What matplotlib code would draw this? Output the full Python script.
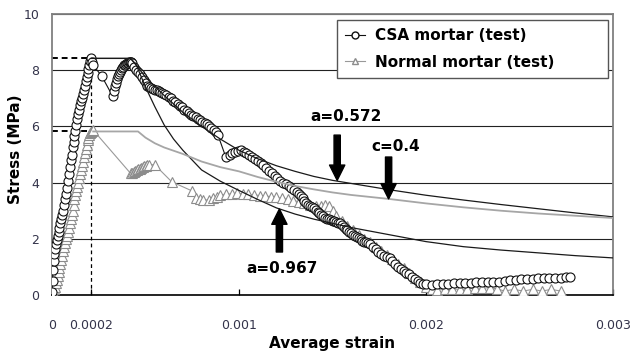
import matplotlib
matplotlib.use("Agg")
import matplotlib.pyplot as plt
from matplotlib.lines import Line2D
import numpy as np

# CSA mortar test (strain in microstrain, stress in MPa)
csa_ue = [0, 3, 6, 9, 12, 16, 20, 25, 30, 35, 40, 45, 50, 55, 60, 65, 70, 75, 80, 85,
          90, 95, 100, 105, 110, 115, 120, 125, 130, 135, 140, 145, 150, 155, 160, 165,
          170, 175, 180, 185, 190, 195, 200, 205, 210, 215, 220, 265, 324, 330, 336, 342,
          348, 354, 360, 365, 370, 375, 380, 385, 390, 395, 400, 405, 410, 415, 420, 425,
          430, 440, 450, 460, 470, 480, 490, 500, 510, 520, 530, 540, 550, 560, 570, 580,
          590, 600, 612, 624, 636, 648, 660, 672, 684, 696, 708, 720, 732, 744, 756, 768,
          780, 792, 804, 816, 828, 840, 852, 864, 876, 888, 930, 950, 965, 980, 995, 1010,
          1025, 1040, 1055, 1070, 1085, 1100, 1115, 1130, 1145, 1160, 1175, 1190, 1205,
          1220, 1235, 1250, 1265, 1280, 1295, 1310, 1320, 1330, 1340, 1350, 1360, 1370,
          1380, 1390, 1400, 1410, 1420, 1430, 1440, 1450, 1460, 1470, 1480, 1490, 1500,
          1510, 1520, 1530, 1540, 1550, 1560, 1570, 1580, 1590, 1600, 1610, 1620, 1630,
          1640, 1650, 1660, 1670, 1680, 1690, 1700, 1715, 1730, 1745, 1760, 1775, 1790,
          1805, 1820, 1835, 1850, 1865, 1880, 1895, 1910, 1925, 1940, 1955, 1970, 1985,
          2000, 2030, 2060, 2090, 2120, 2150, 2180, 2210, 2240, 2270, 2300, 2330, 2360,
          2390, 2420, 2450, 2480, 2510, 2540, 2570, 2600, 2630, 2660, 2690, 2720, 2750, 2770]
csa_mpa = [0.1, 0.5, 0.9, 1.2, 1.45, 1.65, 1.8, 1.95, 2.1, 2.25, 2.4, 2.55, 2.7, 2.85, 3.0,
           3.2, 3.4, 3.6, 3.8, 4.05, 4.3, 4.55, 4.8, 5.0, 5.25, 5.45, 5.65, 5.85, 6.05, 6.25,
           6.45, 6.6, 6.75, 6.9, 7.0, 7.15, 7.3, 7.45, 7.6, 7.75, 7.9, 8.05, 8.2, 8.32, 8.42,
           8.3, 8.18, 7.8, 7.08, 7.25, 7.42, 7.55, 7.68, 7.78, 7.88, 7.95, 8.02, 8.08, 8.12,
           8.17, 8.2, 8.22, 8.25, 8.27, 8.28, 8.3, 8.3, 8.28, 8.25, 8.12, 8.02, 7.95, 7.85,
           7.75, 7.65, 7.55, 7.45, 7.4, 7.36, 7.33, 7.3, 7.28, 7.25, 7.22, 7.18, 7.16, 7.1,
           7.05, 7.0, 6.92, 6.86, 6.8, 6.74, 6.68, 6.6, 6.55, 6.48, 6.42, 6.38, 6.33, 6.28,
           6.22, 6.17, 6.12, 6.07, 6.0, 5.95, 5.88, 5.8, 5.68, 4.9, 4.98, 5.05, 5.1, 5.14,
           5.15, 5.1, 5.05, 5.0, 4.92, 4.85, 4.77, 4.7, 4.62, 4.52, 4.43, 4.35, 4.25, 4.15,
           4.06, 3.97, 3.95, 3.88, 3.82, 3.74, 3.66, 3.58, 3.52, 3.45, 3.36, 3.27, 3.2, 3.15,
           3.12, 3.08, 3.02, 2.97, 2.93, 2.86, 2.8, 2.75, 2.72, 2.7, 2.68, 2.65, 2.62, 2.6,
           2.58, 2.55, 2.5, 2.42, 2.36, 2.3, 2.25, 2.2, 2.15, 2.1, 2.06, 2.02, 1.98, 1.93,
           1.9, 1.87, 1.85, 1.82, 1.72, 1.62, 1.53, 1.45, 1.4, 1.36, 1.3, 1.2, 1.1, 1.0,
           0.92, 0.85, 0.8, 0.74, 0.64, 0.56, 0.49, 0.44, 0.4, 0.38, 0.37, 0.38, 0.4, 0.4,
           0.42, 0.42, 0.43, 0.44, 0.45, 0.46, 0.46, 0.47, 0.48, 0.5, 0.52, 0.54, 0.56, 0.57,
           0.58, 0.59, 0.6, 0.61, 0.62, 0.62, 0.63, 0.64]

# Normal mortar test
nor_ue = [0, 5, 10, 15, 20, 25, 30, 35, 40, 45, 50, 55, 60, 65, 70, 75, 80, 85, 90, 95,
          100, 105, 110, 115, 120, 125, 130, 135, 140, 145, 150, 155, 160, 165, 170, 175,
          180, 185, 190, 195, 200, 205, 210, 215, 220, 420, 428, 436, 444, 452, 460, 468,
          476, 484, 492, 500, 510, 520, 550, 640, 750, 770, 790, 810, 840, 860, 880, 900,
          930, 960, 990, 1020, 1050, 1080, 1110, 1140, 1170, 1200, 1230, 1260, 1290, 1320,
          1350, 1380, 1410, 1440, 1460, 1480, 1500, 1520, 1550, 1580, 1610, 1640, 1670,
          1700, 1730, 1760, 1790, 1820, 1850, 1880, 1910, 1940, 1970, 2000, 2030, 2060,
          2100, 2140, 2180, 2220, 2260, 2300, 2340, 2380, 2420, 2470, 2520, 2570, 2620,
          2670, 2720]
nor_mpa = [0.05, 0.1, 0.2, 0.3, 0.42, 0.55, 0.68, 0.82, 0.95, 1.1, 1.25, 1.4, 1.55, 1.7,
           1.85, 1.98, 2.1, 2.25, 2.4, 2.55, 2.7, 2.85, 3.0, 3.2, 3.4, 3.55, 3.7, 3.85, 4.0,
           4.15, 4.3, 4.45, 4.6, 4.75, 4.9, 5.05, 5.2, 5.35, 5.5, 5.6, 5.68, 5.75, 5.8, 5.85,
           5.87, 4.33, 4.35, 4.38, 4.41, 4.44, 4.47, 4.5, 4.53, 4.55, 4.58, 4.6, 4.62, 4.64,
           4.63, 4.03, 3.7, 3.45, 3.4, 3.38, 3.38, 3.45, 3.5, 3.55, 3.58, 3.6, 3.62, 3.6,
           3.58, 3.56, 3.54, 3.52, 3.5, 3.47, 3.44, 3.4, 3.36, 3.32, 3.27, 3.22, 3.18, 3.16,
           3.22, 3.18, 3.0, 2.8, 2.62, 2.45, 2.3, 2.15, 2.0, 1.88, 1.72, 1.58, 1.42, 1.28,
           1.12, 0.96, 0.8, 0.62, 0.45, 0.3, 0.2, 0.18, 0.2, 0.22, 0.2, 0.22, 0.24, 0.25,
           0.26, 0.22, 0.14, 0.2, 0.14, 0.2, 0.14, 0.2, 0.14]

# model curves
m572_ue = [210, 420, 460, 500, 600, 700, 800, 900, 1000, 1100, 1200, 1300, 1400, 1500,
           1600, 1800, 2000, 2200, 2400, 2600, 2800, 3000]
m572_mpa = [8.42, 8.42, 8.1, 7.75, 7.1, 6.5, 6.0, 5.55, 5.15, 4.85, 4.6, 4.4, 4.22, 4.08,
            3.97, 3.75, 3.55, 3.38, 3.22, 3.07, 2.92, 2.78]
m967_ue = [210, 420, 450, 500, 550, 600, 650, 700, 800, 900, 1000, 1100, 1200, 1300,
           1400, 1600, 1800, 2000, 2200, 2400, 2600, 2800, 3000]
m967_mpa = [8.42, 8.42, 8.2, 7.4, 6.7, 6.05, 5.55, 5.15, 4.45, 4.05, 3.72, 3.4, 3.1, 2.88,
            2.7, 2.4, 2.15, 1.9, 1.72, 1.6, 1.5, 1.4, 1.32]
mc04_ue = [220, 460, 500, 550, 600, 700, 800, 900, 1000, 1100, 1200, 1300, 1400, 1500,
           1600, 1800, 2000, 2200, 2400, 2600, 2800, 3000]
mc04_mpa = [5.82, 5.82, 5.6, 5.4, 5.25, 5.02, 4.75, 4.55, 4.4, 4.2, 4.03, 3.88, 3.76,
            3.65, 3.56, 3.42, 3.26, 3.12, 3.0, 2.9, 2.82, 2.74]

peak_csa = (210, 8.42)
peak_nor = (220, 5.82)

xtick_pos = [0, 210, 1000, 2000, 3000]
xtick_lab = ['0', '0.0002', '0.001', '0.002', '0.003']

ue = 1e-6
tick_col = '#33334a'

fig = plt.figure(figsize=(6.34, 3.59), dpi=100)
ax = fig.add_axes([52/634, 1-295/359, 561/634, 281/359])

# test data
ax.plot(np.array(nor_ue)*ue, nor_mpa, '-', color='#999999', lw=0.8,
        marker='^', ms=6.5, mfc='white', mec='#8c8c8c', mew=0.8, zorder=3)
ax.plot(np.array(csa_ue)*ue, csa_mpa, '-', color='#111111', lw=0.8,
        marker='o', ms=6.5, mfc='white', mec='#111111', mew=0.8, zorder=4)

# model curves
ax.plot(np.array(m572_ue)*ue, m572_mpa, color='#1a1a1a', lw=0.9, zorder=5)
ax.plot(np.array(m967_ue)*ue, m967_mpa, color='#1a1a1a', lw=0.9, zorder=5)
ax.plot(np.array(mc04_ue)*ue, mc04_mpa, color='#a6a6a6', lw=1.3, zorder=5)

# peak guides
ax.plot([0, peak_csa[0]*ue], [peak_csa[1]]*2, color='black', lw=1.4, ls=(0, (3, 2)), zorder=2)
ax.plot([0, peak_nor[0]*ue], [peak_nor[1]]*2, color='black', lw=1.4, ls=(0, (3, 2)), zorder=2)
ax.plot([peak_csa[0]*ue]*2, [0, peak_csa[1]], color='black', lw=0.9, ls=(0, (3, 2.5)), zorder=2)

# arrows + labels
arr = dict(arrowstyle='simple,head_width=1.1,head_length=1.1,tail_width=0.45',
           color='black', shrinkA=0, shrinkB=0, mutation_scale=10)
ax.annotate('', xy=(1525*ue, 4.08), xytext=(1525*ue, 5.69), arrowprops=arr, zorder=6)
ax.annotate('', xy=(1800*ue, 3.42), xytext=(1800*ue, 4.91), arrowprops=arr, zorder=6)
ax.annotate('', xy=(1216*ue, 3.06), xytext=(1216*ue, 1.53), arrowprops=arr, zorder=6)
fs = 11
ax.text(1570*ue, 6.37, 'a=0.572', fontsize=fs, fontweight='bold', ha='center', va='center')
ax.text(1840*ue, 5.27, 'c=0.4', fontsize=fs, fontweight='bold', ha='center', va='center')
ax.text(1230*ue, 0.93, 'a=0.967', fontsize=fs, fontweight='bold', ha='center', va='center')

ax.set_xlim(0, 0.003)
ax.set_ylim(0, 10)
ax.set_yticks([0, 2, 4, 6, 8, 10])
ax.set_xticks(np.array(xtick_pos)*ue)
ax.set_xticklabels(xtick_lab)
ax.tick_params(axis='y', length=0, pad=9, labelsize=9, labelcolor=tick_col)
ax.tick_params(axis='x', direction='in', length=4, width=0.9, pad=17, labelsize=9,
               labelcolor=tick_col)
ax.yaxis.grid(True, color='#222222', lw=0.8)
ax.set_axisbelow(True)

for s in ['top', 'right', 'left']:
    ax.spines[s].set_color('#808080')
    ax.spines[s].set_linewidth(1.3)
ax.spines['bottom'].set_color('black')
ax.spines['bottom'].set_linewidth(1.2)

ax.set_xlabel('Average strain', fontsize=11, fontweight='bold')
ax.xaxis.set_label_coords(0.5, -0.145)
ax.set_ylabel('Stress (MPa)', fontsize=11, fontweight='bold')
ax.yaxis.set_label_coords(-0.052, 0.52)

handles = [Line2D([], [], color='#111111', lw=0.8, marker='o', ms=5, mfc='white', mec='#111111'),
           Line2D([], [], color='#999999', lw=0.8, marker='^', ms=5, mfc='white', mec='#8c8c8c')]
leg = ax.legend(handles, ['CSA mortar (test)', 'Normal mortar (test)'],
                loc='upper left', bbox_to_anchor=(0.508, 0.70, 0.483, 0.279), mode='expand',
                borderaxespad=0, fancybox=False, framealpha=1, edgecolor='#555555',
                prop={'size': 11, 'weight': 'bold'}, handlelength=1.3, handletextpad=0.65,
                labelspacing=0.75, borderpad=0.55)
leg.get_frame().set_linewidth(1.0)
leg.set_zorder(10)

fig.savefig('out.png', dpi=100)
